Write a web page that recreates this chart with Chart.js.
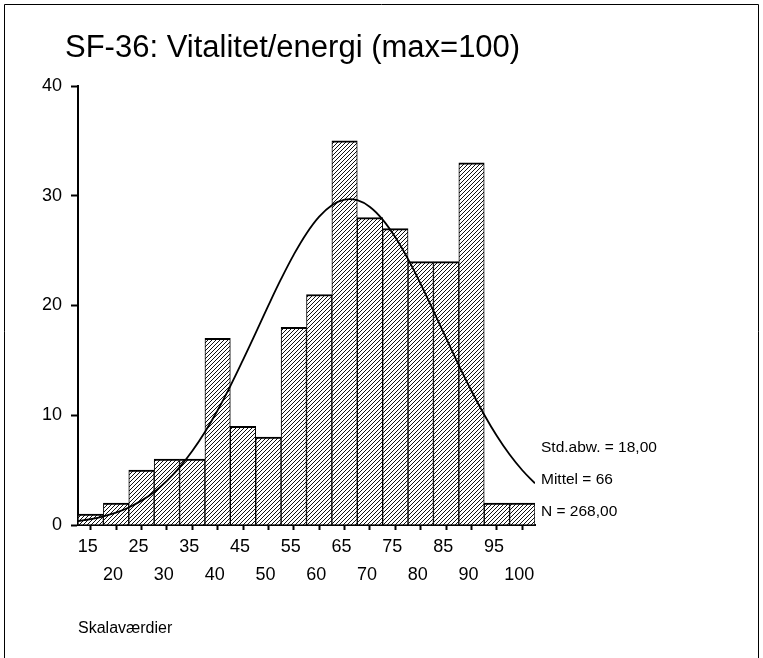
<!DOCTYPE html>
<html><head><meta charset="utf-8">
<script src="https://cdn.jsdelivr.net/npm/chart.js@4"></script>
<style>html,body{margin:0;padding:0;background:#fff;}canvas{display:block;}</style>
</head><body>
<canvas id="c" width="763" height="658"></canvas>
<script>
// ---- data ----
const titleText = 'SF-36: Vitalitet/energi (max=100)';
const axisTitle = 'Skalaværdier';
const categories = ['15','20','25','30','35','40','45','50','55','60','65','70','75','80','85','90','95','100'];
const counts = [1,2,5,6,6,17,9,8,18,21,35,28,27,24,24,33,2,2];
const curveX = [12.5,15,17.5,20,22.5,25,27.5,30,32.5,35,37.5,40,42.5,45,47.5,50,52.5,55,57.5,60,62.5,65,67.5,70,72.5,75,77.5,80,82.5,85,87.5,90,92.5,95,97.5,100,102.5];
const curveY = [0.36,0.54,0.79,1.13,1.60,2.22,3.01,4.02,5.25,6.74,8.48,10.46,12.66,15.04,17.51,20.01,22.42,24.64,26.57,28.10,29.14,29.65,29.60,28.98,27.83,26.21,24.22,21.95,19.51,17.02,14.55,12.21,10.05,8.11,6.42,4.99,3.80];
const yTicks = [0,10,20,30,40];
const statLines = ['Std.abw. = 18,00','Mittel = 66','N = 268,00'];

const FONT = '"Liberation Sans", Arial, Helvetica, sans-serif';
const canvas = document.getElementById('c');
const mainCtx = canvas.getContext('2d');

function makeHatch() {
  const t = document.createElement('canvas');
  t.width = 4; t.height = 4;
  const g = t.getContext('2d');
  g.fillStyle = '#fff'; g.fillRect(0,0,4,4);
  g.fillStyle = '#111';
  for (let i = 0; i < 4; i++) g.fillRect(i, 3 - i, 1, 1);
  return mainCtx.createPattern(t, 'repeat');
}

const decor = {
  id: 'decor',
  beforeDraw(chart) {
    const ctx = chart.ctx;
    ctx.save();
    ctx.fillStyle = '#fff';
    ctx.fillRect(0, 0, chart.width, chart.height);
    ctx.strokeStyle = '#000';
    ctx.lineWidth = 1;
    ctx.beginPath();
    ctx.moveTo(4.5, chart.height + 10);
    ctx.lineTo(4.5, 4.5);
    ctx.lineTo(758.5, 4.5);
    ctx.lineTo(758.5, chart.height + 10);
    ctx.stroke();
    ctx.restore();
  },
  afterDraw(chart) {
    const ctx = chart.ctx;
    const a = chart.chartArea;
    ctx.save();
    ctx.fillStyle = '#000';
    ctx.textBaseline = 'middle';
    ctx.textAlign = 'left';
    ctx.font = '31px ' + FONT;
    ctx.fillText(titleText, 65, 48);
    ctx.font = '15.5px ' + FONT;
    statLines.forEach((s, i) => {
      ctx.fillText(s, a.right + 6, a.bottom - 77 + i * 32);
    });
    ctx.restore();
  }
};

new Chart(canvas, {
  type: 'bar',
  data: {
    labels: categories,
    datasets: [
      {
        type: 'line',
        data: curveX.map((x, i) => ({ x: x, y: curveY[i] })),
        xAxisID: 'x2',
        borderColor: '#000',
        borderWidth: 1.8,
        pointRadius: 0,
        tension: 0.4,
        fill: false,
        order: 0
      },
      {
        type: 'bar',
        data: counts,
        xAxisID: 'x',
        backgroundColor: makeHatch(),
        borderColor: '#000',
        borderWidth: { top: 2, left: 1, right: 1, bottom: 0 },
        borderSkipped: false,
        grouped: false,
        barPercentage: 1,
        categoryPercentage: 1,
        order: 1
      }
    ]
  },
  options: {
    responsive: false,
    animation: false,
    events: [],
    layout: { padding: { left: 0, right: 228, top: 86, bottom: 0 } },
    plugins: { legend: { display: false }, tooltip: { enabled: false }, title: { display: false } },
    scales: {
      x: {
        type: 'category',
        offset: true,
        afterFit(s) { s.height = 133; },
        grid: { display: true, drawOnChartArea: false, drawTicks: true, tickLength: 5, tickWidth: 2, tickColor: '#000', offset: false },
        border: { display: true, color: '#000', width: 2 },
        ticks: {
          autoSkip: false, maxRotation: 0, minRotation: 0, padding: 3, labelOffset: -3, color: '#000',
          font: { family: FONT, size: 18, lineHeight: '28px' },
          callback: (v, i) => (i % 2 === 0 ? [categories[i], ''] : ['', categories[i]])
        },
        title: {
          display: true, text: axisTitle, align: 'start', color: '#000',
          font: { family: FONT, size: 16 }, padding: { top: 4, bottom: 20 }
        }
      },
      x2: {
        type: 'linear', display: false, min: curveX[0], max: curveX[curveX.length - 1], offset: false
      },
      y: {
        type: 'linear', min: 0, max: 40,
        afterFit(s) { s.width = 78; },
        afterBuildTicks(s) { s.ticks = yTicks.map(v => ({ value: v })); },
        grid: { display: true, drawOnChartArea: false, drawTicks: true, tickLength: 7, tickWidth: 2, tickColor: '#000' },
        border: { display: true, color: '#000', width: 2 },
        ticks: { padding: 9, color: '#000', font: { family: FONT, size: 18 } }
      }
    }
  },
  plugins: [decor]
});
</script>
</body></html>
